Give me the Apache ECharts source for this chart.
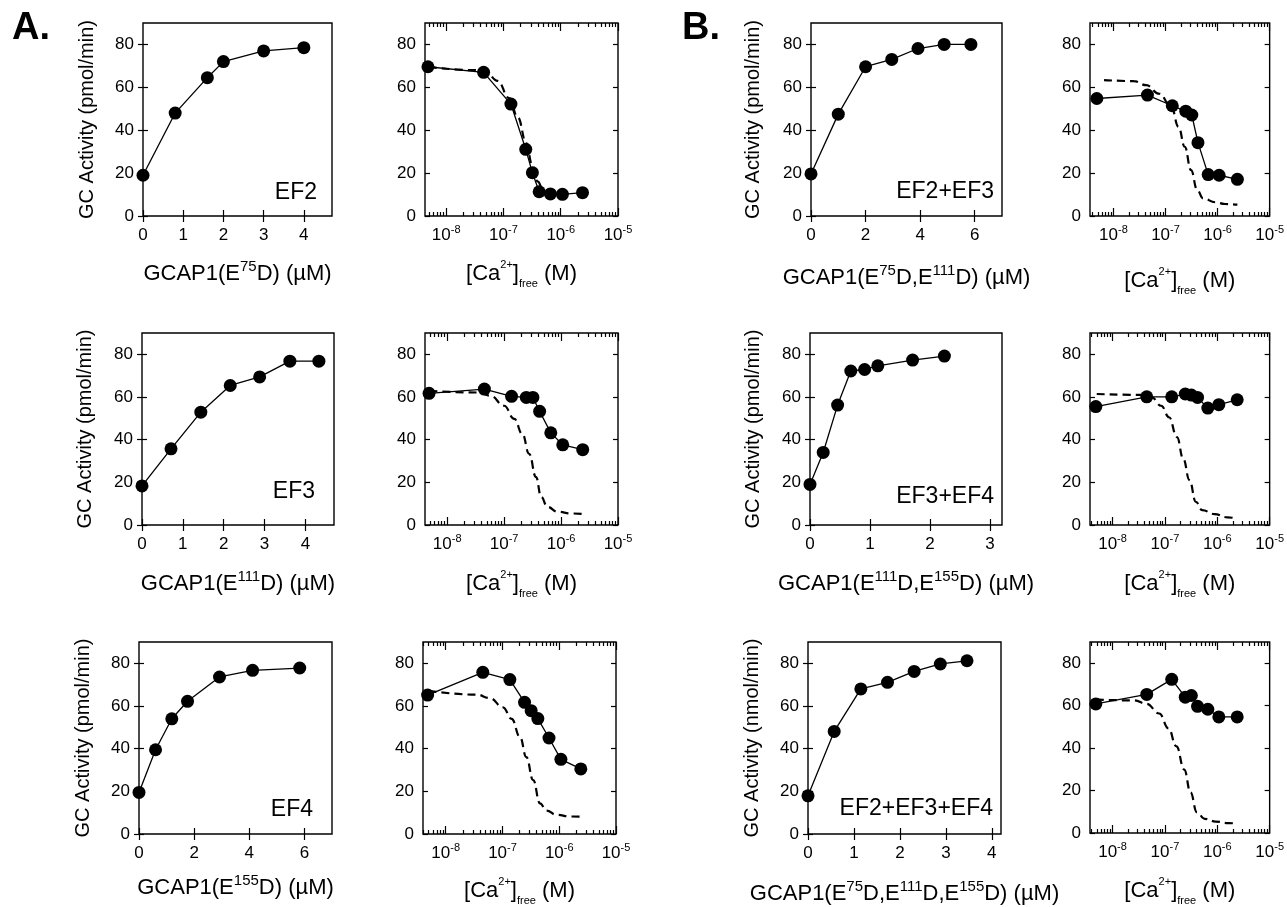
<!DOCTYPE html>
<html><head><meta charset="utf-8">
<script src="https://cdn.jsdelivr.net/npm/echarts@6/dist/echarts.min.js"></script>
<style>html,body{margin:0;padding:0;background:#fff}#c{width:1287px;height:907px}</style>
</head><body><div id="c"></div>
<script>
const FONT = '"Liberation Sans", Arial, Helvetica, sans-serif';

// ---------------- DATA ----------------
// Left columns: GC activity vs GCAP1 mutant concentration (µM)
const ef2Gcap = [0, 0.8, 1.6, 2.0, 3.0, 4.0];
const ef2Act  = [19, 48, 64.5, 72, 77, 78.5];
const ef3Gcap = [0, 0.71, 1.44, 2.16, 2.88, 3.62, 4.33];
const ef3Act  = [18.3, 35.7, 52.9, 65.4, 69.4, 76.8, 76.8];
const ef4Gcap = [0, 0.6, 1.19, 1.76, 2.92, 4.12, 5.83];
const ef4Act  = [19.5, 39.5, 54.0, 62.2, 73.6, 76.7, 77.8];
const ef23Gcap = [0, 1.0, 2.0, 2.96, 3.92, 4.88, 5.86];
const ef23Act  = [19.6, 47.5, 69.6, 73.0, 78.1, 80.0, 80.0];
const ef34Gcap = [0, 0.22, 0.46, 0.68, 0.91, 1.13, 1.71, 2.24];
const ef34Act  = [19.0, 34.0, 56.2, 72.2, 72.9, 74.6, 77.3, 79.2];
const ef234Gcap = [0, 0.57, 1.15, 1.73, 2.31, 2.88, 3.46];
const ef234Act  = [17.9, 48.1, 68.0, 71.1, 76.2, 79.7, 81.2];

// Right columns: GC activity vs free Ca2+ (M)
const caFree = [4.8e-9, 4.5e-8, 1.35e-7, 2.45e-7, 3.2e-7, 4.2e-7, 6.6e-7, 1.07e-6, 2.4e-6];
const ef2CaAct   = [69.6, 67.0, 52.2, 31.1, 20.2, 11.3, 10.3, 10.1, 10.9];
const ef3CaAct   = [61.7, 63.7, 60.3, 59.8, 59.8, 53.3, 43.2, 37.6, 35.3];
const ef4CaAct   = [65.1, 75.8, 72.4, 61.7, 57.8, 54.1, 45.0, 35.0, 30.5];
const ef23CaAct  = [54.8, 56.4, 51.4, 48.9, 47.1, 34.2, 19.3, 19.0, 17.1];
const ef34CaAct  = [55.5, 60.1, 60.1, 61.4, 60.9, 59.8, 54.8, 56.4, 58.7];
const ef234CaAct = [60.8, 65.3, 72.4, 64.0, 64.8, 59.7, 58.3, 54.7, 54.7];

// Dashed reference (fitted) curves
const ef2FitCa  = [5.0e-9, 3.16e-8, 5.0e-8, 7.9e-8, 1.26e-7, 1.78e-7, 2.51e-7, 3.16e-7, 3.98e-7, 4.57e-7];
const ef2FitAct = [69.5, 68.0, 67.0, 63.0, 55.0, 46.0, 34.0, 24.0, 16.0, 13.0];
const ef3FitCa  = [4.9e-9, 3.4e-8, 5.75e-8, 1.0e-7, 1.51e-7, 2.09e-7, 2.75e-7, 3.63e-7, 4.47e-7, 5.75e-7, 8.7e-7, 1.51e-6, 2.75e-6];
const ef3FitAct = [62.9, 62.1, 60.6, 55.9, 49.7, 42.7, 33.4, 22.5, 13.2, 8.5, 6.2, 5.4, 5.1];
const ef4FitCa  = [5.0e-9, 3.55e-8, 6.0e-8, 1.02e-7, 1.45e-7, 2.04e-7, 2.63e-7, 3.47e-7, 4.57e-7, 6.0e-7, 8.9e-7, 1.55e-6, 2.63e-6];
const ef4FitAct = [67.1, 65.3, 63.7, 59.4, 54.0, 45.4, 36.1, 25.3, 14.4, 11.0, 9.0, 8.2, 8.1];
const ef23FitCa  = [6.6e-9, 2.45e-8, 4.27e-8, 7.6e-8, 1.29e-7, 1.78e-7, 2.34e-7, 3.09e-7, 4.07e-7, 5.25e-7, 9.1e-7, 1.38e-6, 2.4e-6];
const ef23FitAct = [63.4, 62.9, 61.0, 57.0, 51.0, 41.6, 32.3, 21.4, 12.1, 8.2, 6.4, 5.6, 5.3];
const ef34FitCa  = [5.0e-9, 3.7e-8, 5.6e-8, 8.5e-8, 1.2e-7, 1.7e-7, 2.24e-7, 2.95e-7, 3.89e-7, 5.13e-7, 8.9e-7, 1.55e-6, 2.34e-6];
const ef34FitAct = [61.4, 61.0, 59.8, 55.9, 50.5, 41.2, 31.1, 21.0, 10.9, 7.0, 5.1, 3.6, 3.1];
const ef234FitCa  = [4.8e-9, 2.57e-8, 4.47e-8, 7.8e-8, 1.17e-7, 1.66e-7, 2.34e-7, 3.09e-7, 4.07e-7, 5.75e-7, 9.3e-7, 1.62e-6, 2.45e-6];
const ef234FitAct = [62.8, 62.5, 60.9, 56.3, 49.3, 40.8, 29.9, 19.1, 9.8, 6.7, 5.4, 4.7, 4.3];

// Tick values
const yTicks = [0, 20, 40, 60, 80];
const xTicks4 = [0, 1, 2, 3, 4];
const xTicks6 = [0, 2, 4, 6];
const xTicks3 = [0, 1, 2, 3];
const logMajorTicks = [-8, -7, -6, -5];

// Texts
const yTitle = 'GC Activity (pmol/min)';
const yTitleN = 'GC Activity (nmol/min)';
const caTitle = '{t|[Ca}{sup|2+}{t|]}{sub|free}{t| (M)}';

// ---------------- LAYOUT ----------------
const ROW = [{t: 23, b: 216}, {t: 333, b: 525}, {t: 642, b: 834}];

const grids = [], xAxes = [], yAxes = [], series = [];
const tickLine = {color: '#000', width: 1.2};
const titleRich = {
  t: {fontFamily: FONT, fontSize: 22, color: '#000', lineHeight: 30},
  sup: {fontFamily: FONT, fontSize: 15, color: '#000', verticalAlign: 'top', lineHeight: 15}
};
const caRich = {
  t: {fontFamily: FONT, fontSize: 22, color: '#000', lineHeight: 30},
  sup: {fontFamily: FONT, fontSize: 11, color: '#000', verticalAlign: 'top', lineHeight: 13},
  sub: {fontFamily: FONT, fontSize: 11, color: '#000', verticalAlign: 'bottom', lineHeight: 14}
};

function addGrid(l, r, row) {
  grids.push({left: l, top: ROW[row].t, width: r - l, height: ROW[row].b - ROW[row].t,
    show: true, borderColor: '#000', borderWidth: 1.4, backgroundColor: 'rgba(0,0,0,0)'});
  return grids.length - 1;
}
function addY(gi, name, gap) {
  const base = {type: 'value', gridIndex: gi, min: 0, max: 90, splitLine: {show: false}, axisLine: {show: false}};
  yAxes.push(Object.assign({}, base, {
    position: 'left',
    name: name || '', nameLocation: 'middle', nameGap: gap || 0,
    nameTextStyle: {fontFamily: FONT, fontSize: 20, color: '#000'},
    axisTick: {show: true, inside: true, length: 5, customValues: yTicks, lineStyle: tickLine},
    axisLabel: {show: true, customValues: yTicks, margin: 9, fontFamily: FONT, fontSize: 17, color: '#000'}
  }));
  const idx = yAxes.length - 1;
  yAxes.push(Object.assign({}, base, {
    position: 'right',
    axisTick: {show: true, inside: true, length: 5, customValues: yTicks, lineStyle: tickLine},
    axisLabel: {show: false}
  }));
  return idx;
}
function addXLin(gi, max, ticks, name, gap) {
  const base = {type: 'value', gridIndex: gi, min: 0, max: max, splitLine: {show: false}, axisLine: {show: false}};
  xAxes.push(Object.assign({}, base, {
    position: 'bottom',
    name: name, nameLocation: 'middle', nameGap: gap, nameTextStyle: {rich: titleRich},
    axisTick: {show: true, inside: true, length: 6, customValues: ticks, lineStyle: tickLine},
    axisLabel: {show: true, customValues: ticks, margin: 11, fontFamily: FONT, fontSize: 17, color: '#000'}
  }));
  const idx = xAxes.length - 1;
  xAxes.push(Object.assign({}, base, {
    position: 'top',
    axisTick: {show: true, inside: true, length: 6, customValues: ticks, lineStyle: tickLine},
    axisLabel: {show: false}
  }));
  return idx;
}
function addXLog(gi, min, gap) {
  const max = -5;
  const minor = [];
  for (let n = -9; n <= -6; n++) for (let k = 2; k <= 9; k++) {
    const v = n + Math.log10(k);
    if (v > min && v < max) minor.push(v);
  }
  const major = logMajorTicks.filter(v => v >= min && v <= max);
  const base = {type: 'value', gridIndex: gi, min: min, max: max, splitLine: {show: false}, axisLine: {show: false}};
  xAxes.push(Object.assign({}, base, {
    position: 'bottom',
    name: caTitle, nameLocation: 'middle', nameGap: gap, nameTextStyle: {rich: caRich},
    axisTick: {show: true, inside: true, length: 8, customValues: major, lineStyle: tickLine},
    axisLabel: {show: true, customValues: major, margin: 8, showMaxLabel: true, showMinLabel: true,
      formatter: v => '{b|10}{s|' + Math.round(v) + '}',
      rich: {
        b: {fontFamily: FONT, fontSize: 17, color: '#000', lineHeight: 22},
        s: {fontFamily: FONT, fontSize: 11, color: '#000', verticalAlign: 'top', lineHeight: 11}
      }}
  }));
  const idx = xAxes.length - 1;
  xAxes.push(Object.assign({}, base, {position: 'bottom',
    axisTick: {show: true, inside: true, length: 4, customValues: minor, lineStyle: tickLine}, axisLabel: {show: false}}));
  xAxes.push(Object.assign({}, base, {position: 'top',
    axisTick: {show: true, inside: true, length: 8, customValues: major, lineStyle: tickLine}, axisLabel: {show: false}}));
  xAxes.push(Object.assign({}, base, {position: 'top',
    axisTick: {show: true, inside: true, length: 4, customValues: minor, lineStyle: tickLine}, axisLabel: {show: false}}));
  return idx;
}
function addData(xi, yi, xs, ys, toLog) {
  series.push({type: 'line', xAxisIndex: xi, yAxisIndex: yi,
    data: xs.map((x, i) => [toLog ? Math.log10(x) : x, ys[i]]),
    symbol: 'circle', symbolSize: 13, clip: false, z: 3,
    lineStyle: {color: '#000', width: 1.3}, itemStyle: {color: '#000'}, emphasis: {disabled: true}});
}
function addFit(xi, yi, xs, ys) {
  series.push({type: 'line', xAxisIndex: xi, yAxisIndex: yi,
    data: xs.map((x, i) => [Math.log10(x), ys[i]]),
    symbol: 'none', smooth: 0.45, smoothMonotone: 'x', z: 2,
    lineStyle: {color: '#000', width: 2.2, type: [8, 5]}, emphasis: {disabled: true}});
}
function linPanel(l, r, row, max, ticks, name, xGap, yName, yGap, xs, ys) {
  const g = addGrid(l, r, row);
  const xi = addXLin(g, max, ticks, name, xGap);
  const yi = addY(g, yName, yGap);
  addData(xi, yi, xs, ys, false);
}
function caPanel(l, r, row, min, xGap, ys, fitX, fitY) {
  const g = addGrid(l, r, row);
  const xi = addXLog(g, min, xGap);
  const yi = addY(g, '', 0);
  addFit(xi, yi, fitX, fitY);
  addData(xi, yi, caFree, ys, true);
}

// Panel A
linPanel(143, 332, 0, 4.7, xTicks4, '{t|GCAP1(E}{sup|75}{t|D) (µM)}', 43, yTitle, 46, ef2Gcap, ef2Act);
caPanel(425, 618, 0, -8.37, 43, ef2CaAct, ef2FitCa, ef2FitAct);
linPanel(142, 334, 1, 4.7, xTicks4, '{t|GCAP1(E}{sup|111}{t|D) (µM)}', 44, yTitle, 47, ef3Gcap, ef3Act);
caPanel(425, 618, 1, -8.39, 44, ef3CaAct, ef3FitCa, ef3FitAct);
linPanel(139, 332, 2, 7, xTicks6, '{t|GCAP1(E}{sup|155}{t|D) (µM)}', 39, yTitle, 46, ef4Gcap, ef4Act);
caPanel(423, 616, 2, -8.40, 42, ef4CaAct, ef4FitCa, ef4FitAct);
// Panel B
linPanel(811, 1002, 0, 7, xTicks6, '{t|GCAP1(E}{sup|75}{t|D,E}{sup|111}{t|D) (µM)}', 47, yTitle, 48, ef23Gcap, ef23Act);
caPanel(1090, 1281, 0, -8.45, 50, ef23CaAct, ef23FitCa, ef23FitAct);
linPanel(810, 1002, 1, 3.2, xTicks3, '{t|GCAP1(E}{sup|111}{t|D,E}{sup|155}{t|D) (µM)}', 44, yTitle, 47, ef34Gcap, ef34Act);
caPanel(1090, 1281, 1, -8.43, 44, ef34CaAct, ef34FitCa, ef34FitAct);
linPanel(808, 1001, 2, 4.2, xTicks4, '{t|GCAP1(E}{sup|75}{t|D,E}{sup|111}{t|D,E}{sup|155}{t|D) (µM)}', 45, yTitleN, 46, ef234Gcap, ef234Act);
caPanel(1090, 1280, 2, -8.43, 43, ef234CaAct, ef234FitCa, ef234FitAct);

function txt(text, x, y, size, bold, align) {
  return {type: 'text', x: x, y: y, z: 10, silent: true,
    style: {text: text, fill: '#000', fontFamily: FONT, fontSize: size, fontWeight: bold ? 'bold' : 'normal',
      align: align || 'right', verticalAlign: 'middle'}};
}
const graphics = [
  txt('A.', 12, 29, 38, true, 'left'),
  txt('B.', 682, 29, 38, true, 'left'),
  txt('EF2', 317, 193, 23),
  txt('EF3', 315, 492, 23),
  txt('EF4', 313, 810, 23),
  txt('EF2+EF3', 994, 192, 23),
  txt('EF3+EF4', 994, 497, 23),
  txt('EF2+EF3+EF4', 993, 809, 23)
];

const chart = echarts.init(document.getElementById('c'), null, {renderer: 'canvas'});
chart.setOption({
  animation: false,
  backgroundColor: '#fff',
  grid: grids, xAxis: xAxes, yAxis: yAxes, series: series,
  graphic: graphics
});
</script></body></html>
